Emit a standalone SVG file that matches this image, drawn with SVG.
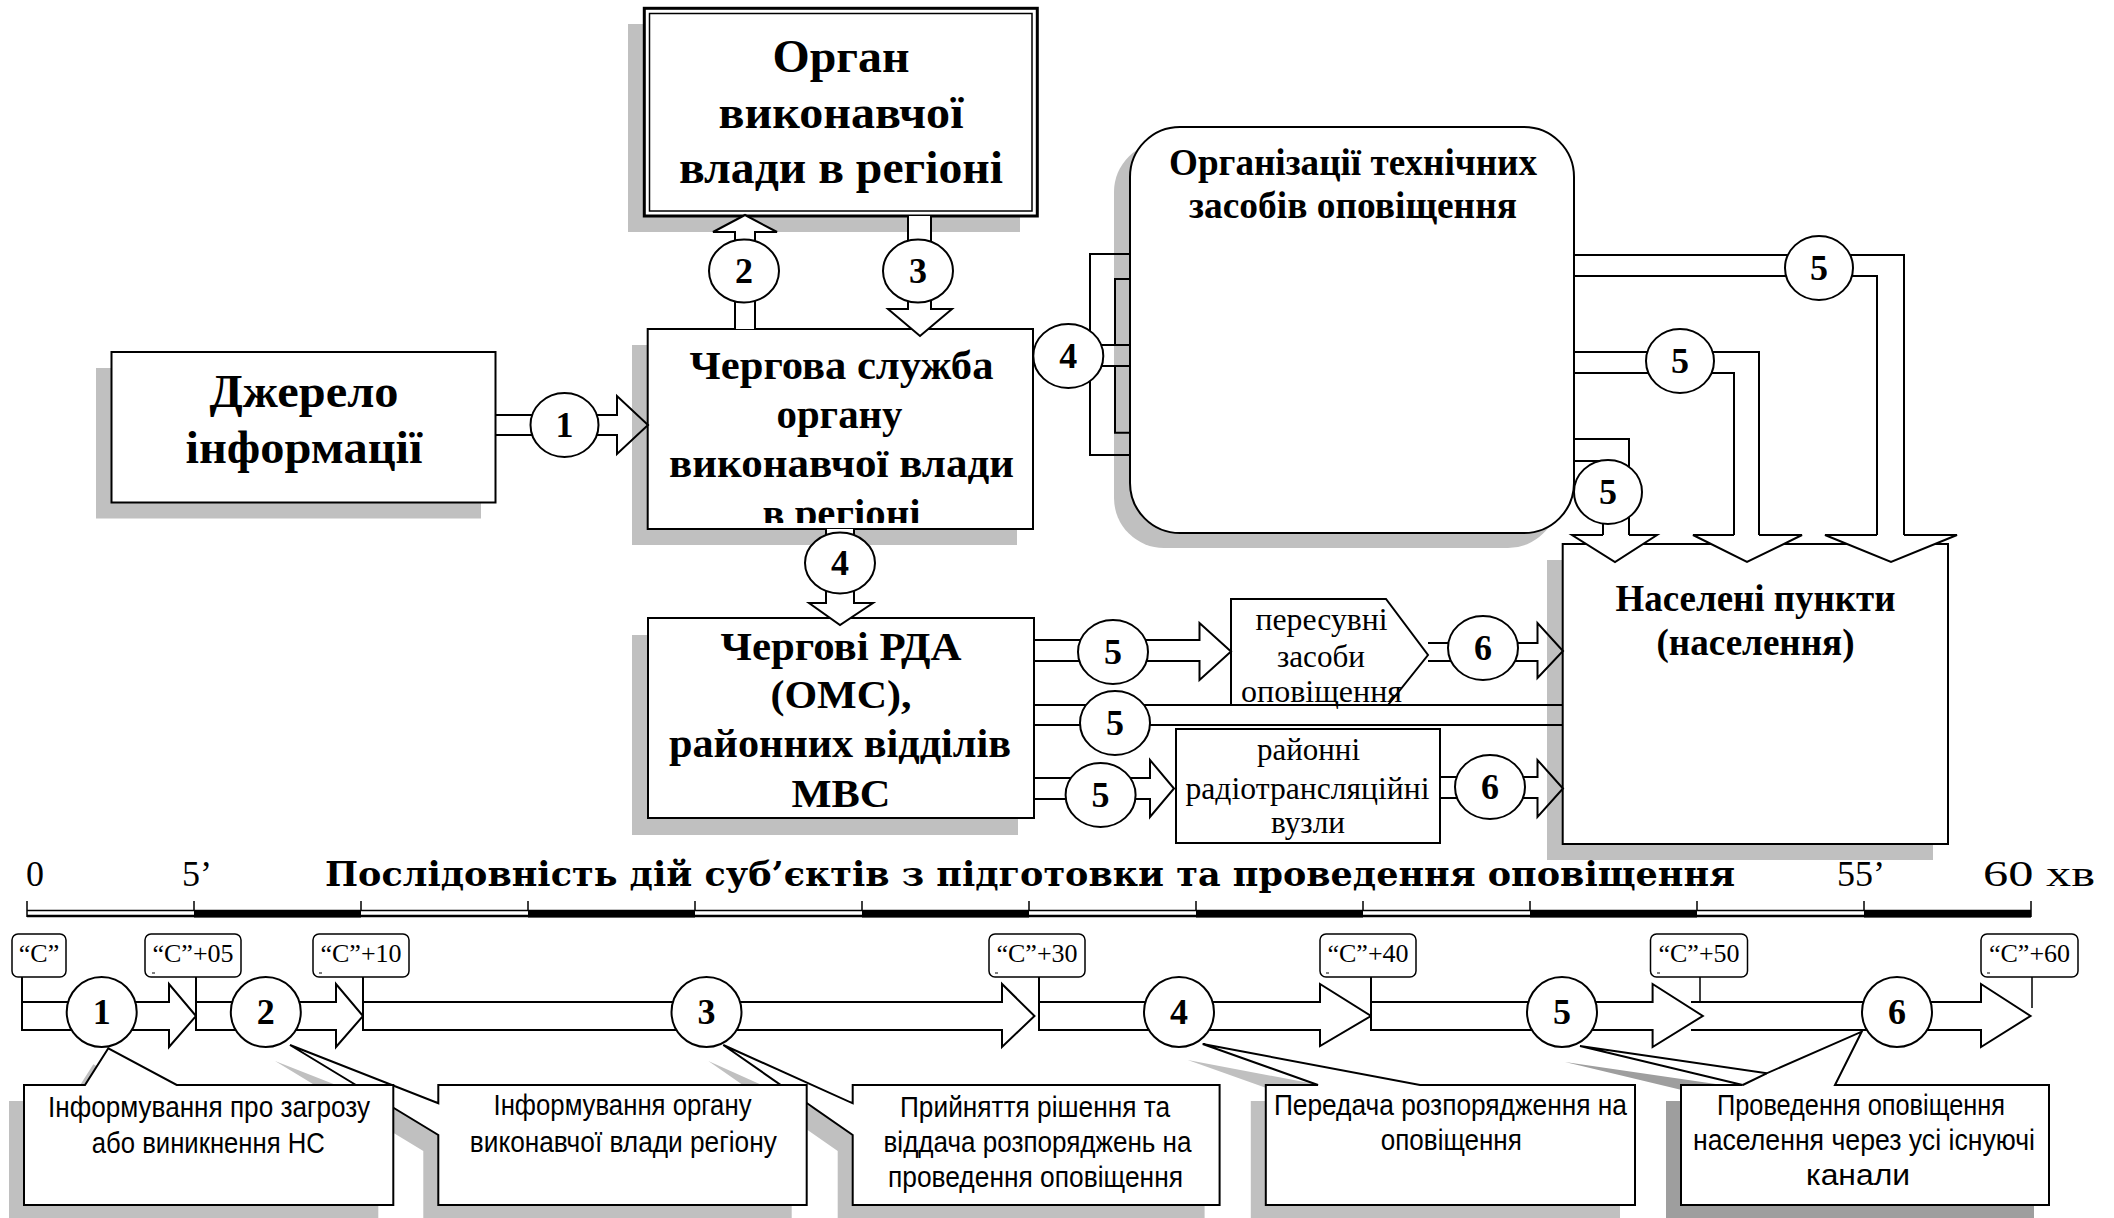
<svg xmlns="http://www.w3.org/2000/svg" width="2114" height="1218" viewBox="0 0 2114 1218">
<style>
.bg{fill:#fff}
.box{fill:#fff;stroke:#000;stroke-width:2}
.sh{fill:#c0c0c0}
.sh2{fill:#9e9e9e}
.ln{fill:none;stroke:#000;stroke-width:2}
.ln1{fill:none;stroke:#000;stroke-width:1.5}
.aw{fill:#fff;stroke:#000;stroke-width:2}
.an{fill:none;stroke:#000;stroke-width:2}
.c{fill:#fff;stroke:#000;stroke-width:2}
.b{font-family:"Liberation Serif","Times New Roman",serif;font-weight:bold;text-anchor:middle;fill:#000}
.r{font-family:"Liberation Serif","Times New Roman",serif;text-anchor:middle;fill:#000}
.rs{font-family:"Liberation Serif","Times New Roman",serif;fill:#000}
.s{font-family:"Liberation Sans",Arial,sans-serif;text-anchor:middle;font-size:30px;fill:#000}
.num{font-family:"Liberation Serif","Times New Roman",serif;font-weight:bold;font-size:36px;text-anchor:middle;fill:#000}
.tb{fill:#fff;stroke:#000;stroke-width:1.5}
</style>
<defs>
<clipPath id="clipCh"><rect x="648" y="329" width="385" height="194"/></clipPath>
</defs>
<rect class="bg" x="0" y="0" width="2114" height="1218"/>

<!-- Nodes -->
<g id="organ">
<rect class="sh" x="628" y="24" width="392" height="208"/>
<rect x="644.3" y="8.3" width="393" height="207.7" fill="#fff" stroke="#000" stroke-width="3"/>
<rect x="649.5" y="13.5" width="382.5" height="197.5" fill="none" stroke="#000" stroke-width="1.5"/>
<text class="b" font-size="46" x="841" y="71.7" textLength="137" lengthAdjust="spacingAndGlyphs">Орган</text>
<text class="b" font-size="46" x="841" y="128.3" textLength="245" lengthAdjust="spacingAndGlyphs">виконавчої</text>
<text class="b" font-size="46" x="841" y="183.3" textLength="324" lengthAdjust="spacingAndGlyphs">влади в регіоні</text>
</g>

<g id="dzherelo">
<rect class="sh" x="96" y="368" width="385" height="150.5"/>
<rect class="box" x="111.5" y="352" width="384" height="150.5"/>
<text class="b" font-size="46" x="304" y="407" textLength="189" lengthAdjust="spacingAndGlyphs">Джерело</text>
<text class="b" font-size="46" x="304" y="463" textLength="237" lengthAdjust="spacingAndGlyphs">інформації</text>
</g>

<g id="cherhova">
<rect class="sh" x="632" y="345" width="385" height="200"/>
<rect class="box" x="647.7" y="329" width="385.3" height="200"/>
<text class="b" font-size="40" x="841.5" y="379" textLength="304" lengthAdjust="spacingAndGlyphs">Чергова служба</text>
<text class="b" font-size="40" x="839.5" y="428" textLength="126" lengthAdjust="spacingAndGlyphs">органу</text>
<text class="b" font-size="40" x="841.5" y="477" textLength="345" lengthAdjust="spacingAndGlyphs">виконавчої влади</text>
<text class="b" font-size="40" x="841.5" y="527" textLength="158" lengthAdjust="spacingAndGlyphs" clip-path="url(#clipCh)">в регіоні</text>
</g>

<g id="orhanizatsii">
<rect class="sh" x="1114" y="142" width="444" height="406" rx="50" ry="50"/>
<rect class="box" x="1130" y="127" width="444" height="406" rx="50" ry="50"/>
<text class="b" font-size="38" x="1353" y="175" textLength="368" lengthAdjust="spacingAndGlyphs">Організації технічних</text>
<text class="b" font-size="38" x="1353" y="218" textLength="328" lengthAdjust="spacingAndGlyphs">засобів оповіщення</text>
</g>

<g id="rda">
<rect class="sh" x="632" y="635" width="386" height="200"/>
<rect class="box" x="648" y="618" width="386" height="200"/>
<text class="b" font-size="41" x="841" y="660" textLength="241" lengthAdjust="spacingAndGlyphs">Чергові РДА</text>
<text class="b" font-size="41" x="841" y="708" textLength="141" lengthAdjust="spacingAndGlyphs">(ОМС),</text>
<text class="b" font-size="41" x="840" y="757" textLength="342" lengthAdjust="spacingAndGlyphs">районних відділів</text>
<text class="b" font-size="41" x="841" y="807" textLength="99" lengthAdjust="spacingAndGlyphs">МВС</text>
</g>

<g id="naseleni">
<rect class="sh" x="1547" y="560" width="386" height="300"/>
<rect class="box" x="1562.7" y="544" width="385.3" height="300"/>
<text class="b" font-size="38" x="1755.5" y="611" textLength="280" lengthAdjust="spacingAndGlyphs">Населені пункти</text>
<text class="b" font-size="38" x="1755.5" y="655" textLength="198" lengthAdjust="spacingAndGlyphs">(населення)</text>
</g>

<g id="peresuvni">
<polygon class="box" points="1231,599 1386,599 1428,655 1388,705 1231,705"/>
<text class="r" font-size="32" x="1321.5" y="630" textLength="132" lengthAdjust="spacingAndGlyphs">пересувні</text>
<text class="r" font-size="32" x="1321" y="667" textLength="88" lengthAdjust="spacingAndGlyphs">засоби</text>
<text class="r" font-size="32" x="1321.5" y="702" textLength="161" lengthAdjust="spacingAndGlyphs">оповіщення</text>
</g>

<g id="raionni">
<rect class="box" x="1176" y="729" width="264" height="114"/>
<text class="r" font-size="32" x="1308.5" y="760" textLength="103" lengthAdjust="spacingAndGlyphs">районні</text>
<text class="r" font-size="32" x="1307.5" y="799" textLength="244" lengthAdjust="spacingAndGlyphs">радіотрансляційні</text>
<text class="r" font-size="32" x="1308" y="833" textLength="74" lengthAdjust="spacingAndGlyphs">вузли</text>
</g>

<!-- Connectors -->
<g id="connectors">
<path class="an" d="M495.6,415 H617 V396 L648,425 L617,454 V435 H495.6"/>
<ellipse class="c" cx="564.5" cy="425" rx="34" ry="32"/>
<text class="num" x="564.5" y="437">1</text>
<path class="aw" d="M735,329 V232 H713 L745,215 L777,232 H755 V329"/>
<ellipse class="c" cx="744" cy="271" rx="35" ry="31.5"/>
<text class="num" x="744" y="283">2</text>
<path class="aw" d="M908,216 V309 H888 L920,336 L952,309 H931 V216"/>
<ellipse class="c" cx="918" cy="271" rx="35" ry="31.5"/>
<text class="num" x="918" y="283">3</text>
<path class="aw" d="M826,529 V603 H809 L840,625 L873,603 H854 V529"/>
<ellipse class="c" cx="840" cy="563" rx="35" ry="30.5"/>
<text class="num" x="840" y="575">4</text>
<path class="ln" d="M1130,254 H1090 V455 H1130"/>
<path class="ln" d="M1130,279 H1115 V345 H1130 M1100,345 H1115"/>
<path class="ln" d="M1100,366 H1130 M1115,366 V432.7 H1130"/>
<ellipse class="c" cx="1068.3" cy="356" rx="35" ry="32"/>
<text class="num" x="1068.3" y="368">4</text>
<path class="ln" d="M1574,255 H1904 V535 M1574,276 H1877 V535"/>
<path class="aw" d="M1877,535 H1825 L1891,562 L1957,535 H1904"/>
<ellipse class="c" cx="1819" cy="268" rx="34" ry="32"/>
<text class="num" x="1819" y="280">5</text>
<path class="ln" d="M1574,352 H1759 V535 M1574,373 H1734 V535"/>
<path class="aw" d="M1734,535 H1693 L1747,562 L1802,535 H1759"/>
<ellipse class="c" cx="1680" cy="361" rx="34" ry="32"/>
<text class="num" x="1680" y="373">5</text>
<path class="ln" d="M1574,439 H1629 V535 M1574,461 H1603 V535"/>
<path class="aw" d="M1603,535 H1572 L1615,562 L1657,535 H1629"/>
<ellipse class="c" cx="1608" cy="492" rx="34" ry="32"/>
<text class="num" x="1608" y="504">5</text>
<path class="an" d="M1034,640 H1199.5 V623 L1231,651.5 L1199.5,680 V661 H1034"/>
<ellipse class="c" cx="1113" cy="652" rx="35" ry="32"/>
<text class="num" x="1113" y="664">5</text>
<path class="an" d="M1428,643 H1537.5 V623 L1563,651 L1537.5,678 V661 H1428"/>
<ellipse class="c" cx="1483" cy="648" rx="35" ry="32"/>
<text class="num" x="1483" y="660">6</text>
<path class="ln" d="M1034,705 H1563 M1034,725 H1563"/>
<ellipse class="c" cx="1115" cy="723" rx="35" ry="32"/>
<text class="num" x="1115" y="735">5</text>
<path class="an" d="M1034,778 H1150 V760 L1174,788.5 L1150,817 V799 H1034"/>
<ellipse class="c" cx="1100.6" cy="795" rx="35" ry="32"/>
<text class="num" x="1100.6" y="807">5</text>
<path class="an" d="M1440,777 H1537.5 V760 L1563,788.5 L1537.5,817 V798 H1440"/>
<ellipse class="c" cx="1490" cy="787" rx="35" ry="32"/>
<text class="num" x="1490" y="799">6</text>
</g>

<!-- Timeline -->
<g id="timeline-scale">
<text class="rs" font-size="36" x="26" y="886">0</text>
<text class="rs" font-size="36" x="182" y="886">5’</text>
<text font-family="'DejaVu Serif','Liberation Serif',serif" font-weight="bold" font-size="33" x="325" y="886" textLength="1410" lengthAdjust="spacingAndGlyphs">Послідовність дій суб’єктів з підготовки та проведення оповіщення</text>
<text class="rs" font-size="36" x="1837" y="886">55’</text>
<text class="rs" font-size="36" x="1983" y="886" textLength="112" lengthAdjust="spacingAndGlyphs">60 хв</text>
<path class="ln1" d="M27,910.5 H2031"/>
<path d="M27,916 H2031" fill="none" stroke="#000" stroke-width="2.5"/>
<rect x="194" y="910" width="167" height="7.5" fill="#000"/>
<rect x="528" y="910" width="167" height="7.5" fill="#000"/>
<rect x="862" y="910" width="167" height="7.5" fill="#000"/>
<rect x="1196" y="910" width="167" height="7.5" fill="#000"/>
<rect x="1530" y="910" width="167" height="7.5" fill="#000"/>
<rect x="1864" y="910" width="167" height="7.5" fill="#000"/>
<path class="ln1" d="M27,901 V917 M194,901 V910 M361,901 V910 M528,901 V910 M695,901 V910 M862,901 V910 M1029,901 V910 M1196,901 V910 M1363,901 V910 M1530,901 V910 M1697,901 V910 M1864,901 V910 M2031,901 V917"/>
</g>

<g id="timeline-arrows">
<path class="aw" d="M22,977 V1030 H169 V1047 L196,1016 L169,984 V1002 H22"/>
<path class="aw" d="M196,977 V1030 H336 V1047 L363,1016 L336,984 V1002 H196"/>
<path class="aw" d="M363,977 V1030 H1002 V1047 L1034.5,1016 L1002,984 V1002 H363"/>
<path class="aw" d="M1039,977 V1030 H1320 V1046 L1371,1016 L1320,984 V1002 H1039"/>
<path class="aw" d="M1691,1002 H1981 V984 L2030.5,1016 L1981,1047 V1030 H1691"/>
<path class="aw" d="M1371,977 V1030 H1652.6 V1047 L1702.8,1016 L1652.6,984 V1002 H1371"/>
<path class="ln1" d="M1700,977 V1002 M2032,977 V1008"/>
</g>

<g id="time-marks">
<rect class="tb" x="12" y="934" width="54" height="43" rx="6"/>
<text class="r" font-size="26" x="39" y="961.7">“С”</text>
<rect class="tb" x="145" y="934" width="96" height="43" rx="6"/>
<text class="r" font-size="26" x="193" y="961.7">“С”+05</text>
<rect class="tb" x="313" y="934" width="96" height="43" rx="6"/>
<text class="r" font-size="26" x="361" y="961.7">“С”+10</text>
<rect class="tb" x="989" y="934" width="96" height="43" rx="6"/>
<text class="r" font-size="26" x="1037" y="961.7">“С”+30</text>
<rect class="tb" x="1320" y="934" width="96" height="43" rx="6"/>
<text class="r" font-size="26" x="1368" y="961.7">“С”+40</text>
<rect class="tb" x="1650.5" y="934" width="97" height="43" rx="6"/>
<text class="r" font-size="26" x="1699" y="961.7">“С”+50</text>
<rect class="tb" x="1981" y="934" width="97" height="43" rx="6"/>
<text class="r" font-size="26" x="2029.5" y="961.7">“С”+60</text>
<path d="M152,973 h3 M319,973 h3 M995,973 h3 M1326,973 h3 M1657,973 h3 M1987,973 h3" stroke="#000" stroke-width="1"/>
</g>

<g id="timeline-circles">
<circle class="c" cx="101.7" cy="1012" r="35"/><text class="num" x="101.7" y="1024">1</text>
<circle class="c" cx="265.8" cy="1012" r="35"/><text class="num" x="265.8" y="1024">2</text>
<circle class="c" cx="706.5" cy="1012" r="35"/><text class="num" x="706.5" y="1024">3</text>
<circle class="c" cx="1179" cy="1012" r="35"/><text class="num" x="1179" y="1024">4</text>
<circle class="c" cx="1562" cy="1012" r="35"/><text class="num" x="1562" y="1024">5</text>
<circle class="c" cx="1897" cy="1012" r="35"/><text class="num" x="1897" y="1024">6</text>
</g>

<g id="callout-5">
<polygon class="sh2" transform="translate(-15,16)" points="1681,1085 1742.7,1085 1580,1046 1766.7,1073.3 1861.7,1031.7 1835,1085 2049,1085 2049,1205 1681,1205"/>
<polygon class="box" points="1681,1085 1742.7,1085 1580,1046 1766.7,1073.3 1861.7,1031.7 1835,1085 2049,1085 2049,1205 1681,1205"/>
<path class="ln" d="M1742.7,1085 L1766.7,1073.3"/>
<text class="s" x="1861" y="1115" textLength="288" lengthAdjust="spacingAndGlyphs">Проведення оповіщення</text>
<text class="s" x="1864" y="1150" textLength="342" lengthAdjust="spacingAndGlyphs">населення через усі існуючі</text>
<text class="s" x="1858" y="1185" textLength="104" lengthAdjust="spacingAndGlyphs">канали</text>
</g>

<g id="callout-4">
<polygon class="sh" transform="translate(-15,16)" points="1265.8,1085 1318,1085 1202.7,1044 1420,1085 1635,1085 1635,1205 1265.8,1205"/>
<polygon class="box" points="1265.8,1085 1318,1085 1202.7,1044 1420,1085 1635,1085 1635,1205 1265.8,1205"/>
<text class="s" x="1450.4" y="1115" textLength="353" lengthAdjust="spacingAndGlyphs">Передача розпорядження на</text>
<text class="s" x="1451.3" y="1150" textLength="141" lengthAdjust="spacingAndGlyphs">оповіщення</text>
</g>

<g id="callout-3">
<polygon class="sh" transform="translate(-15,16)" points="852.7,1085 1219.6,1085 1219.6,1205 852.7,1205 852.7,1135 723.3,1045 852.7,1103.3"/>
<polygon class="box" points="852.7,1085 1219.6,1085 1219.6,1205 852.7,1205 852.7,1135 723.3,1045 852.7,1103.3"/>
<text class="s" x="1035" y="1116.7" textLength="270" lengthAdjust="spacingAndGlyphs">Прийняття рішення та</text>
<text class="s" x="1037.5" y="1151.7" textLength="308" lengthAdjust="spacingAndGlyphs">віддача розпоряджень на</text>
<text class="s" x="1035.5" y="1186.7" textLength="295" lengthAdjust="spacingAndGlyphs">проведення оповіщення</text>
</g>

<g id="callout-2">
<polygon class="sh" transform="translate(-15,16)" points="438.3,1085 806.7,1085 806.7,1205 438.3,1205 438.3,1135 290,1045 438.3,1103.3"/>
<polygon class="box" points="438.3,1085 806.7,1085 806.7,1205 438.3,1205 438.3,1135 290,1045 438.3,1103.3"/>
<text class="s" x="622.5" y="1115" textLength="258" lengthAdjust="spacingAndGlyphs">Інформування органу</text>
<text class="s" x="623.3" y="1151.7" textLength="307" lengthAdjust="spacingAndGlyphs">виконавчої влади регіону</text>
</g>

<g id="callout-1">
<polygon class="sh" transform="translate(-15,16)" points="24,1085 85,1085 108.3,1048.3 176.7,1085 393.3,1085 393.3,1205 24,1205"/>
<polygon class="box" points="24,1085 85,1085 108.3,1048.3 176.7,1085 393.3,1085 393.3,1205 24,1205"/>
<text class="s" x="209" y="1116.7" textLength="322" lengthAdjust="spacingAndGlyphs">Інформування про загрозу</text>
<text class="s" x="208.3" y="1153.3" textLength="233" lengthAdjust="spacingAndGlyphs">або виникнення НС</text>
</g>
</svg>
